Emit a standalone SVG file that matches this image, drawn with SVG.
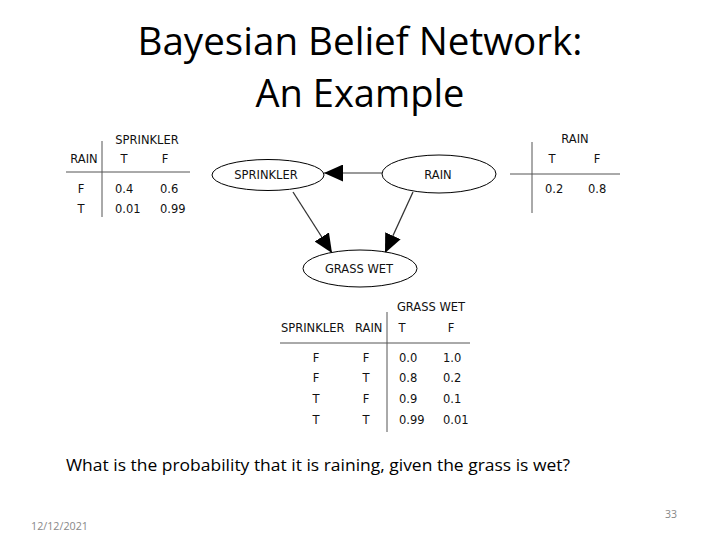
<svg xmlns="http://www.w3.org/2000/svg" width="720" height="540" viewBox="0 0 720 540">
<style>
.title{font-family:"Open Sans","Liberation Sans",Arial,sans-serif;font-size:39px;fill:#000}
.q{font-family:"Open Sans","Liberation Sans",Arial,sans-serif;font-size:17px;fill:#000}
.t{font-family:"DejaVu Sans",Verdana,sans-serif;font-size:11.5px;fill:#111}
.m{text-anchor:middle}
.grid{stroke:#555;stroke-width:1;fill:none}
.node{fill:#fff;stroke:#000;stroke-width:1}
.edge{stroke:#333;stroke-width:1.3;fill:none}
.foot{font-family:"Open Sans","Liberation Sans",Arial,sans-serif;font-size:10.5px;fill:#888}
</style>
<defs>
<marker id="arr" markerUnits="userSpaceOnUse" markerWidth="19" markerHeight="17" refX="19" refY="8.5" orient="auto">
<path d="M0,0 L19,8.5 L0,17 z" fill="#000"/>
</marker>
</defs>
<rect width="720" height="540" fill="#fff"/>
<g id="title">
<text class="title m" x="360" y="55" textLength="445" lengthAdjust="spacingAndGlyphs">Bayesian Belief Network:</text>
<text class="title m" x="360" y="107" textLength="209" lengthAdjust="spacingAndGlyphs">An Example</text>
</g>
<g id="table-sprinkler">
<line class="grid" x1="102" y1="141" x2="102" y2="217"/>
<line class="grid" x1="66" y1="172" x2="190" y2="172"/>
<text class="t m" x="147" y="144">SPRINKLER</text>
<text class="t m" x="84" y="163">RAIN</text>
<text class="t m" x="124" y="163">T</text>
<text class="t m" x="165" y="163">F</text>
<text class="t m" x="81" y="193">F</text>
<text class="t" x="115" y="193">0.4</text>
<text class="t" x="160" y="193">0.6</text>
<text class="t m" x="81" y="213">T</text>
<text class="t" x="115" y="213">0.01</text>
<text class="t" x="160" y="213">0.99</text>
</g>
<g id="table-rain">
<line class="grid" x1="532" y1="142" x2="532" y2="213"/>
<line class="grid" x1="510" y1="174" x2="620" y2="174"/>
<text class="t m" x="575" y="143">RAIN</text>
<text class="t m" x="552" y="163">T</text>
<text class="t m" x="597" y="163">F</text>
<text class="t" x="545" y="193">0.2</text>
<text class="t" x="588" y="193">0.8</text>
</g>
<g id="connectors">
<line class="edge" x1="382" y1="173" x2="324" y2="173" style="stroke:#777;stroke-width:1.6" marker-end="url(#arr)"/>
<line class="edge" x1="293" y1="192" x2="332" y2="253" marker-end="url(#arr)"/>
<line class="edge" x1="413" y1="192" x2="385" y2="253" marker-end="url(#arr)"/>
</g>
<g id="node-sprinkler">
<ellipse class="node" cx="268" cy="175" rx="56" ry="15.5"/>
<text class="t m" x="266" y="179">SPRINKLER</text>
</g>
<g id="node-rain">
<ellipse class="node" cx="439" cy="174" rx="57" ry="19"/>
<text class="t m" x="438" y="179">RAIN</text>
</g>
<g id="node-grasswet">
<ellipse class="node" cx="360" cy="268.5" rx="57" ry="18.5"/>
<text class="t m" x="359" y="273">GRASS WET</text>
</g>
<g id="table-grasswet">
<line class="grid" x1="387" y1="312" x2="387" y2="432"/>
<line class="grid" x1="280" y1="343" x2="470" y2="343"/>
<text class="t m" x="431" y="311">GRASS WET</text>
<text class="t" x="281" y="332">SPRINKLER</text>
<text class="t" x="355" y="332">RAIN</text>
<text class="t m" x="402" y="332">T</text>
<text class="t m" x="451" y="332">F</text>
<text class="t m" x="316" y="362">F</text><text class="t m" x="366" y="362">F</text><text class="t" x="399" y="362">0.0</text><text class="t" x="443" y="362">1.0</text>
<text class="t m" x="316" y="382">F</text><text class="t m" x="366" y="382">T</text><text class="t" x="399" y="382">0.8</text><text class="t" x="443" y="382">0.2</text>
<text class="t m" x="316" y="403">T</text><text class="t m" x="366" y="403">F</text><text class="t" x="399" y="403">0.9</text><text class="t" x="443" y="403">0.1</text>
<text class="t m" x="316" y="424">T</text><text class="t m" x="366" y="424">T</text><text class="t" x="399" y="424">0.99</text><text class="t" x="443" y="424">0.01</text>
</g>
<g id="question">
<text class="q" x="66" y="471" textLength="504" lengthAdjust="spacingAndGlyphs">What is the probability that it is raining, given the grass is wet?</text>
</g>
<g id="footer">
<text class="foot" x="31" y="530" textLength="57" lengthAdjust="spacingAndGlyphs">12/12/2021</text>
<text class="foot" x="665" y="518">33</text>
</g>
</svg>
